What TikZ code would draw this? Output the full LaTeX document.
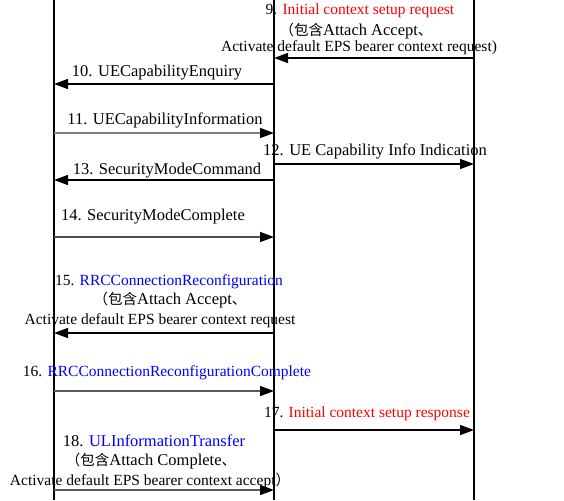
\documentclass[tikz,border=0pt]{standalone}
\usepackage{fontspec}
\setmainfont{Liberation Serif}
\newfontfamily\cjk{Noto Sans CJK SC}
\usetikzlibrary{arrows.meta}
\newcommand{\zh}[1]{{\cjk\fontsize{14.5}{16}\selectfont #1}}
\begin{document}
\begin{tikzpicture}[x=1pt,y=-1pt,
  life/.style={line width=1.5pt,black},
  msg/.style={line width=1.5pt,-{Triangle[length=14pt,width=10pt,color=black]}},
  lbl/.style={inner sep=0pt,font=\fontsize{16.5}{18}\selectfont},
  lbs/.style={inner sep=0pt,font=\fontsize{15.5}{18}\selectfont}]
\useasboundingbox (0,0) rectangle (564,500);
\fill[white] (0,0) rectangle (564,500);
% lifelines
\coordinate (a0) at (54,0); \coordinate (a1) at (54,500);
\coordinate (b0) at (274,0); \coordinate (b1) at (274,500);
\coordinate (c0) at (474,0); \coordinate (c1) at (474,500);
\draw[life] (a0) -- (a1);
\draw[life] (b0) -- (b1);
\draw[life] (c0) -- (c1);
% endpoints
\foreach \n/\y in {9/58,10/84,11/133,12/164,13/180,14/237,15/333,16/391,17/430,18/490}{
  \coordinate (a\n) at (54,\y);
  \coordinate (b\n) at (274,\y);
  \coordinate (c\n) at (474,\y);
}
% 9
\draw[msg] (c9) -- (b9);
\node[lbs] (t9a) at (360,11) {9. \textcolor{red}{Initial context setup request}};
\node[lbl] (t9b) at (356,31) {\zh{（包含}Attach Accept\zh{、}};
\node[lbs] (t9c) at (359,48) {Activate default EPS bearer context request)};
% 10
\draw[msg] (b10) -- (a10);
\node[lbl] (t10) at (157,73) {10. UECapabilityEnquiry};
% 11
\draw[msg,gray] (a11) -- (b11);
\node[lbl] (t11) at (165,120) {11. UECapabilityInformation};
% 12
\draw[msg] (b12) -- (c12);
\node[lbl] (t12) at (375,151) {12. UE Capability Info Indication};
% 13
\draw[msg] (b13) -- (a13);
\node[lbl] (t13) at (167,171) {13. SecurityModeCommand};
% 14
\draw[msg,black!70] (a14) -- (b14);
\node[lbl] (t14) at (153,217) {14. SecurityModeComplete};
% 15
\draw[msg] (b15) -- (a15);
\node[lbs] (t15a) at (169,282) {15. \textcolor{blue}{RRCConnectionReconfiguration}};
\node[lbl] (t15b) at (170,300) {\zh{（包含}Attach Accept\zh{、}};
\node[lbs] (t15c) at (160,321) {Activate default EPS bearer context request};
% 16
\draw[msg,black!65] (a16) -- (b16);
\node[lbs] (t16) at (167,373) {16. \textcolor{blue}{RRCConnectionReconfigurationComplete}};
% 17
\draw[msg] (b17) -- (c17);
\node[lbs] (t17) at (367,414) {17. \textcolor{red}{Initial context setup response}};
% 18
\draw[msg,black!65] (a18) -- (b18);
\node[lbl] (t18a) at (154,441) {18. \textcolor{blue}{ULInformationTransfer}};
\node[lbl] (t18b) at (151,461) {\zh{（包含}Attach Complete\zh{、}};
\node[lbs] (t18c) at (150,481) {Activate default EPS bearer context accept\zh{）}};
\end{tikzpicture}
\end{document}
